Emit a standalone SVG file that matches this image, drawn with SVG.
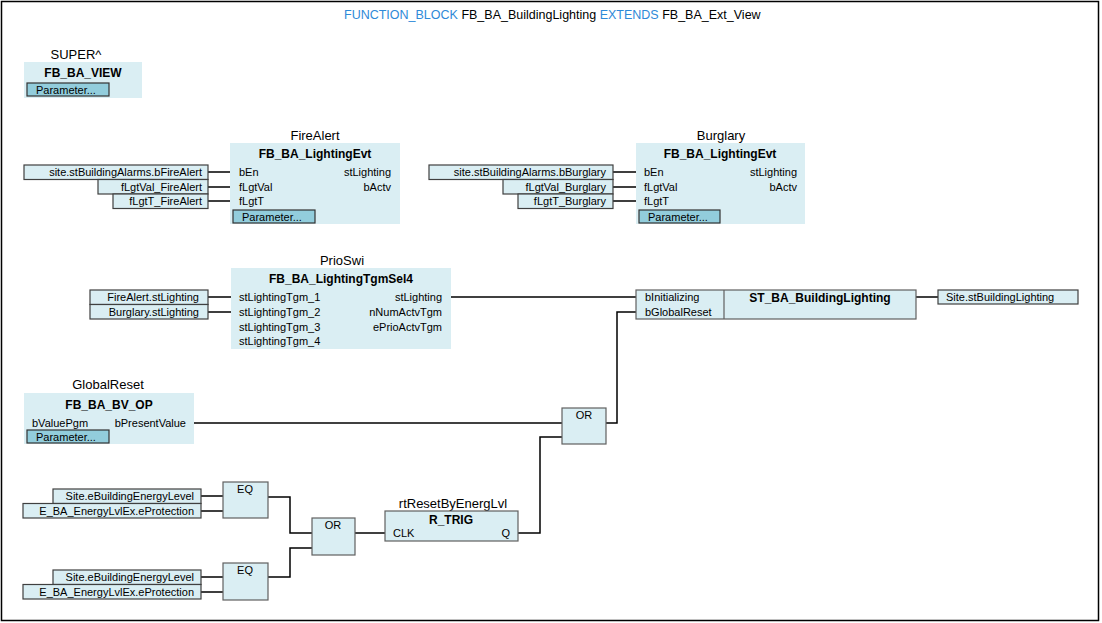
<svg xmlns="http://www.w3.org/2000/svg" width="1102" height="623" viewBox="0 0 1102 623">
<style>
text{font-family:"Liberation Sans",Arial,sans-serif;font-size:11px;fill:#000}
.t{font-size:12.5px}
.kw{fill:#2e8ad8}
.lbl{font-size:13px;text-anchor:middle}
.b{font-weight:bold;font-size:12px}
.blk{fill:#daeef3;stroke:none}
.box{fill:#daeef3;stroke:#606060;stroke-width:1.2}
.var{fill:#daeef3;stroke:#404040;stroke-width:1.2}
.par{fill:#92cddc;stroke:#333;stroke-width:1.2}
.w{fill:none;stroke:#000;stroke-width:1.5}
.e{text-anchor:end}
.m{text-anchor:middle}
</style>
<rect x="1.5" y="1.5" width="1097" height="619" fill="#fff" stroke="#000" stroke-width="1.5"/>
<text class="t" x="344" y="19"><tspan class="kw">FUNCTION_BLOCK</tspan> FB_BA_BuildingLighting <tspan class="kw">EXTENDS</tspan> FB_BA_Ext_View</text>

<g id="connectors">
<path class="w" d="M208 172H231M208 187H231M208 201H231"/>
<path class="w" d="M613 172H636M613 187H636M613 201H636"/>
<path class="w" d="M208 297H231M208 312H231"/>
<path class="w" d="M451 297H636"/>
<path class="w" d="M916 297H938"/>
<path class="w" d="M194 423H562"/>
<path class="w" d="M606 423H617V312H636"/>
<path class="w" d="M518 533H540V437H562"/>
<path class="w" d="M201 496H223M201 511H223"/>
<path class="w" d="M201 577H223M201 592H223"/>
<path class="w" d="M268 497H290V533H312"/>
<path class="w" d="M268 577H290V548H312"/>
<path class="w" d="M355 533H385"/>
</g>

<g id="super">
<text class="lbl" x="76" y="59">SUPER^</text>
<rect class="blk" x="24" y="62" width="118" height="36"/>
<text class="b m" x="83" y="77">FB_BA_VIEW</text>
<rect class="par" x="27" y="83" width="82" height="13"/>
<text x="36" y="94">Parameter...</text>
</g>

<g id="firealert">
<text class="lbl" x="315" y="140">FireAlert</text>
<rect class="blk" x="230" y="143" width="170" height="81"/>
<text class="b m" x="315" y="158">FB_BA_LightingEvt</text>
<text x="239" y="176">bEn</text>
<text x="239" y="191">fLgtVal</text>
<text x="239" y="205">fLgtT</text>
<text class="e" x="391" y="176">stLighting</text>
<text class="e" x="391" y="191">bActv</text>
<rect class="par" x="233" y="210" width="82" height="13"/>
<text x="242" y="221">Parameter...</text>
</g>
<g id="firealert-inputs">
<rect class="var" x="24" y="165" width="184" height="14.5"/>
<text class="e" x="202" y="176">site.stBuildingAlarms.bFireAlert</text>
<rect class="var" x="98" y="179.5" width="110" height="14.5"/>
<text class="e" x="202" y="191">fLgtVal_FireAlert</text>
<rect class="var" x="113" y="194" width="95" height="14.5"/>
<text class="e" x="202" y="205">fLgtT_FireAlert</text>
</g>

<g id="burglary">
<text class="lbl" x="721" y="140">Burglary</text>
<rect class="blk" x="636" y="143" width="169" height="81"/>
<text class="b m" x="720" y="158">FB_BA_LightingEvt</text>
<text x="644" y="176">bEn</text>
<text x="644" y="191">fLgtVal</text>
<text x="644" y="205">fLgtT</text>
<text class="e" x="797" y="176">stLighting</text>
<text class="e" x="797" y="191">bActv</text>
<rect class="par" x="639" y="210" width="81" height="13"/>
<text x="648" y="221">Parameter...</text>
</g>
<g id="burglary-inputs">
<rect class="var" x="429" y="165" width="184" height="14.5"/>
<text class="e" x="606" y="176">site.stBuildingAlarms.bBurglary</text>
<rect class="var" x="503" y="179.5" width="110" height="14.5"/>
<text class="e" x="606" y="191">fLgtVal_Burglary</text>
<rect class="var" x="518" y="194" width="95" height="14.5"/>
<text class="e" x="606" y="205">fLgtT_Burglary</text>
</g>

<g id="prioswi">
<text class="lbl" x="342" y="265">PrioSwi</text>
<rect class="blk" x="231" y="268" width="220" height="81"/>
<text class="b m" x="341" y="283">FB_BA_LightingTgmSel4</text>
<text x="239" y="301">stLightingTgm_1</text>
<text x="239" y="316">stLightingTgm_2</text>
<text x="239" y="331">stLightingTgm_3</text>
<text x="239" y="345">stLightingTgm_4</text>
<text class="e" x="442" y="301">stLighting</text>
<text class="e" x="442" y="316">nNumActvTgm</text>
<text class="e" x="442" y="331">ePrioActvTgm</text>
</g>
<g id="prioswi-inputs">
<rect class="var" x="90" y="290" width="118" height="14.5"/>
<text class="e" x="199" y="301">FireAlert.stLighting</text>
<rect class="var" x="90" y="304.5" width="118" height="14.5"/>
<text class="e" x="199" y="316">Burglary.stLighting</text>
</g>

<g id="st-ba-buildinglighting">
<rect class="box" x="636" y="290" width="280" height="29"/>
<line x1="724" y1="290" x2="724" y2="319" stroke="#606060" stroke-width="1.2"/>
<text x="645" y="301">bInitializing</text>
<text x="645" y="316">bGlobalReset</text>
<text class="b m" x="820" y="302">ST_BA_BuildingLighting</text>
</g>
<g id="output">
<rect class="var" x="938" y="290" width="140" height="14"/>
<text x="946" y="301">Site.stBuildingLighting</text>
</g>

<g id="globalreset">
<text class="lbl" x="108" y="389">GlobalReset</text>
<rect class="blk" x="24" y="393" width="170" height="51"/>
<text class="b m" x="109" y="409">FB_BA_BV_OP</text>
<text x="32" y="427">bValuePgm</text>
<text class="e" x="186" y="427">bPresentValue</text>
<rect class="par" x="27" y="430" width="82" height="13"/>
<text x="36" y="441">Parameter...</text>
</g>

<g id="or-reset">
<rect class="box" x="562" y="408" width="44" height="36"/>
<text class="m" x="584" y="419">OR</text>
</g>

<g id="eq1">
<rect class="box" x="223" y="482" width="45" height="36"/>
<text class="m" x="245" y="493">EQ</text>
</g>
<g id="eq1-inputs">
<rect class="var" x="53" y="489" width="148" height="14.5"/>
<text class="e" x="194" y="500">Site.eBuildingEnergyLevel</text>
<rect class="var" x="23" y="503.5" width="178" height="14.5"/>
<text class="e" x="194" y="515">E_BA_EnergyLvlEx.eProtection</text>
</g>

<g id="eq2">
<rect class="box" x="223" y="563" width="45" height="37"/>
<text class="m" x="245" y="574">EQ</text>
</g>
<g id="eq2-inputs">
<rect class="var" x="53" y="570" width="148" height="14.5"/>
<text class="e" x="194" y="581">Site.eBuildingEnergyLevel</text>
<rect class="var" x="23" y="584.5" width="178" height="14.5"/>
<text class="e" x="194" y="596">E_BA_EnergyLvlEx.eProtection</text>
</g>

<g id="or-energy">
<rect class="box" x="312" y="518" width="43" height="37"/>
<text class="m" x="333" y="529">OR</text>
</g>

<g id="rtresetbyenerglvl">
<text class="lbl" x="453" y="508">rtResetByEnergLvl</text>
<rect class="box" x="385" y="511" width="133" height="30"/>
<text class="b m" x="451" y="524">R_TRIG</text>
<text x="393" y="537">CLK</text>
<text class="e" x="510" y="537">Q</text>
</g>
</svg>
